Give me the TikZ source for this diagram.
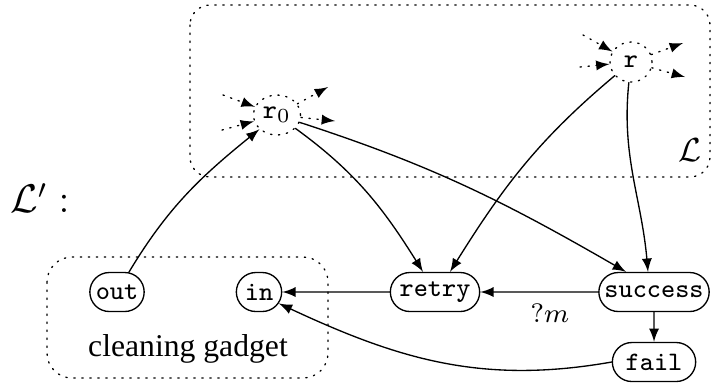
\documentclass[tikz,border=0pt]{standalone}
\usepackage{fontspec}
\setmainfont{Liberation Serif}
\usetikzlibrary{arrows}
\usetikzlibrary{shapes.geometric,shapes.misc}

\begin{document}
\begin{tikzpicture}[line cap=round,line join=round,>=latex,x=0.3pt,y=-0.3pt,
  state/.style={draw,rounded rectangle,minimum height=11.7pt,inner xsep=1pt,inner ysep=0pt,font=\footnotesize\ttfamily},
  hub/.style={draw,dotted,ellipse,minimum height=12pt,inner sep=0pt,font=\footnotesize\ttfamily},
  stub/.style={dotted,->}]
\useasboundingbox (0,0) rectangle (712,387);
% the two regions
\draw [dotted,rounded corners=6pt] (190,5) rectangle (710,177);
\draw [dotted,rounded corners=7.5pt] (47,257) rectangle (328,378);
\node (lname) at (690,150) {$\mathcal{L}$};
\node[font=\large] (lpname) at (40,198) {$\mathcal{L}' :$};
\node (gadget) at (188,349) {\fontsize{9.5}{11}\selectfont cleaning gadget};
% states
\node[hub,minimum width=14.1pt] (r0) at (277,115) {r$_0$};
\node[hub,minimum width=12.6pt] (r) at (631,62) {r};
\node[state,minimum width=18.3pt] (cgout) at (117,292) {out};
\node[state,minimum width=15.6pt] (cgin) at (259,292) {in};
\node[state,minimum width=28.8pt] (retry) at (435,292) {retry};
\node[state,minimum width=35.1pt] (success) at (654,292) {success};
\node[state,minimum width=27pt] (fail) at (654,362) {fail};
% loose ends of the hubs
\coordinate (r0ia) at (223,95);
\coordinate (r0ib) at (222,130);
\coordinate (r0oa) at (328,87);
\coordinate (r0ob) at (335,121);
\coordinate (ria) at (583,35);
\coordinate (rib) at (580,67);
\coordinate (roa) at (683,43);
\coordinate (rob) at (685,77);
\draw [stub] (r0ia)--(r0);
\draw [stub] (r0ib)--(r0);
\draw [stub] (r0)--(r0oa);
\draw [stub] (r0)--(r0ob);
\draw [stub] (ria)--(r);
\draw [stub] (rib)--(r);
\draw [stub] (r)--(roa);
\draw [stub] (r)--(rob);
% transitions
\draw [->] (cgout) to[out=59,in=219] (r0);
\draw [->] (r0) to[out=-36,in=122] ([xshift=-3.6pt]retry.north);
\draw [->] (r0) to[out=-18,in=150] ([xshift=-8.4pt]success.north);
\draw [->] (r) to[out=220,in=58] ([xshift=4.5pt]retry.north);
\draw [->] (r) to[out=-96,in=95] ([xshift=-1.8pt]success.north);
\draw [->] (success) -- node[below,pos=0.41,font=\footnotesize] (qm) {$?m$} (retry);
\draw [->] (retry) -- (cgin);
\draw [->] (success) -- (fail);
\draw [->] (fail.west) to[out=190,in=-25] (cgin.-30);
\end{tikzpicture}
\end{document}
